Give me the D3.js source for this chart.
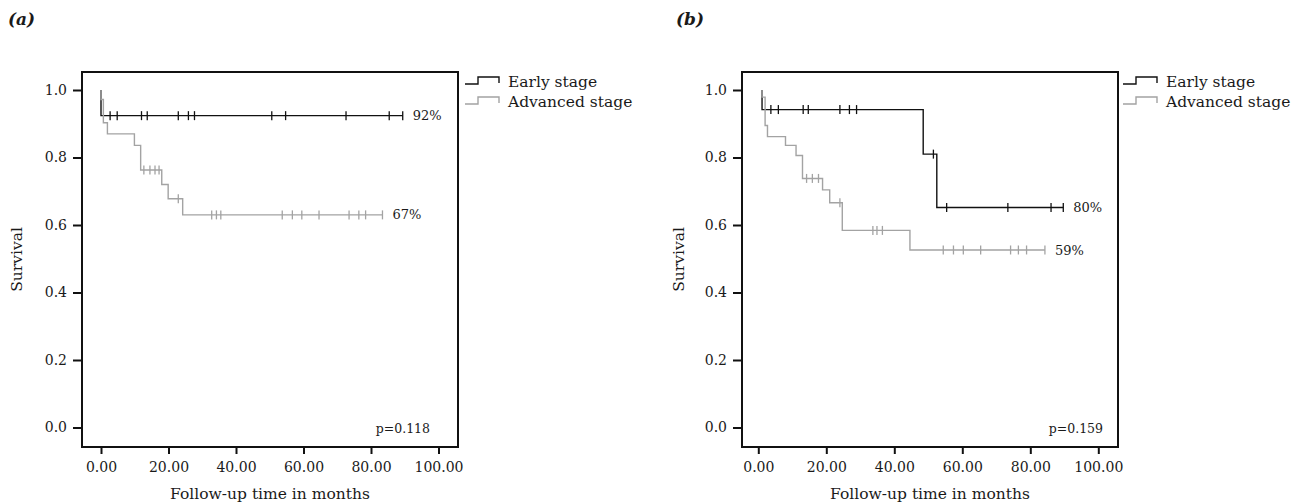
<!DOCTYPE html>
<html>
<head>
<meta charset="utf-8">
<script src="https://cdn.jsdelivr.net/npm/d3@7/dist/d3.min.js"></script>
<style>
  body { margin: 0; background: #fff; }
  svg text { font-family: "DejaVu Serif", "Liberation Serif", serif; fill: #1a1a1a; }
</style>
</head>
<body>
<div id="chart"></div>
<script>
// values
var panelNames = ["(a)", "(b)"];
var seriesNames = ["Early stage", "Advanced stage"];
var xTicks = [0, 20, 40, 60, 80, 100];
var yTicks = [0, 0.2, 0.4, 0.6, 0.8, 1.0];
var pValues = ["p=0.118", "p=0.159"];

// step points [time, survival] and censor times
var earlyA = [[0, 1], [0, 0.924]];
var earlyACens = [2.7, 4.8, 12.0, 13.7, 22.9, 25.9, 27.7, 50.6, 54.7, 72.6, 85.4, 89.4];
var advA = [[0, 1], [0, 0.972], [0.7, 0.903], [1.9, 0.870], [9.9, 0.836], [11.75, 0.763], [18.0, 0.720], [19.9, 0.678], [24.2, 0.630]];
var advACens = [12.7, 14.5, 16.0, 17.2, 22.9, 32.8, 34.2, 35.5, 53.7, 56.7, 59.5, 64.6, 73.5, 76.4, 78.4, 83.4];
var pctA = ["92%", "67%"];

var earlyB = [[1.1, 1], [1.1, 0.942], [48.5, 0.810], [52.5, 0.652]];
var earlyBCens = [3.7, 5.9, 13.2, 14.7, 24.0, 26.8, 28.9, 51.5, 55.4, 73.4, 86.1, 89.7];
var advB = [[1.1, 1], [1.1, 0.979], [2.0, 0.895], [2.7, 0.862], [8.0, 0.836], [11.1, 0.806], [13.0, 0.738], [18.9, 0.704], [21.0, 0.666], [24.7, 0.584], [44.6, 0.526]];
var advBCens = [14.2, 15.9, 17.7, 24.0, 33.7, 34.9, 36.5, 54.4, 57.4, 60.3, 65.4, 74.2, 76.5, 78.9, 84.3];
var pctB = ["80%", "59%"];

var colors = ["#111", "#a3a3a3"];

var svg = d3.select("#chart").append("svg")
  .attr("width", 1305)
  .attr("height", 504);

var panels = [
  { name: panelNames[0], left: 82, right: 458, x0: 101, x100: 438.5, titleX: 8,
    series: [{ pts: earlyA, cens: earlyACens, pct: pctA[0] }, { pts: advA, cens: advACens, pct: pctA[1] }],
    p: pValues[0], pX: 430, legendX: 465, yLabelX: 22 },
  { name: panelNames[1], left: 742, right: 1118, x0: 758.3, x100: 1098.3, titleX: 676,
    series: [{ pts: earlyB, cens: earlyBCens, pct: pctB[0] }, { pts: advB, cens: advBCens, pct: pctB[1] }],
    p: pValues[1], pX: 1103, legendX: 1123, yLabelX: 684 }
];

var plotTop = 72, plotBottom = 447;
var y = d3.scaleLinear().domain([0, 1]).range([427.5, 90]);

function survAt(pts, t) {
  var s = pts[0][1];
  pts.forEach(function(p) { if (p[0] <= t) s = p[1]; });
  return s;
}

panels.forEach(function(pn) {
  var x = d3.scaleLinear().domain([0, 100]).range([pn.x0, pn.x100]);
  var g = svg.append("g");

  g.append("text")
    .attr("x", pn.titleX)
    .attr("y", 25)
    .style("font-size", "17px")
    .style("font-weight", "bold")
    .style("font-style", "italic")
    .text(pn.name);

  // curves
  pn.series.forEach(function(s, i) {
    var tEnd = d3.max(s.cens);
    var pts = s.pts.concat([[tEnd, s.pts[s.pts.length - 1][1]]]);
    var line = d3.line()
      .x(function(d) { return x(d[0]); })
      .y(function(d) { return y(d[1]); })
      .curve(d3.curveStepAfter);
    g.append("path")
      .datum(pts)
      .attr("fill", "none")
      .attr("stroke", colors[i])
      .attr("stroke-width", 1.4)
      .attr("d", line);
    g.selectAll(".cens" + i)
      .data(s.cens)
      .enter()
      .append("line")
      .attr("x1", function(d) { return x(d); })
      .attr("x2", function(d) { return x(d); })
      .attr("y1", function(d) { return y(survAt(s.pts, d)) - 4.5; })
      .attr("y2", function(d) { return y(survAt(s.pts, d)) + 4.5; })
      .attr("stroke", colors[i])
      .attr("stroke-width", 1.3);
    g.append("text")
      .attr("x", x(tEnd) + 10)
      .attr("y", y(s.pts[s.pts.length - 1][1]))
      .attr("dy", "0.35em")
      .style("font-size", "13px")
      .text(s.pct);
  });

  // frame
  g.append("rect")
    .attr("x", pn.left)
    .attr("y", plotTop)
    .attr("width", pn.right - pn.left)
    .attr("height", plotBottom - plotTop)
    .attr("fill", "none")
    .attr("stroke", "#111")
    .attr("stroke-width", 2);

  g.append("g")
    .attr("transform", "translate(" + pn.left + ",0)")
    .call(d3.axisLeft(y).tickValues(yTicks).tickFormat(d3.format(".1f")).tickSize(9).tickPadding(6));
  g.append("g")
    .attr("transform", "translate(0," + plotBottom + ")")
    .call(d3.axisBottom(x).tickValues(xTicks).tickFormat(d3.format(".2f")).tickSize(7).tickPadding(8));
  g.selectAll(".domain").remove();
  g.selectAll(".tick line").attr("stroke", "#111").attr("stroke-width", 2);
  g.selectAll(".tick text")
    .style("font-size", "14px")
    .style("font-family", "DejaVu Serif")
    .attr("fill", "#1a1a1a");

  g.append("text")
    .attr("x", (pn.left + pn.right) / 2)
    .attr("y", 499)
    .attr("text-anchor", "middle")
    .style("font-size", "15.5px")
    .text("Follow-up time in months");
  g.append("text")
    .attr("transform", "translate(" + pn.yLabelX + "," + (plotTop + plotBottom) / 2 + ") rotate(-90)")
    .attr("text-anchor", "middle")
    .style("font-size", "15.5px")
    .text("Survival");

  g.append("text")
    .attr("x", pn.pX)
    .attr("y", 433)
    .attr("text-anchor", "end")
    .style("font-size", "12.5px")
    .text(pn.p);

  // legend
  seriesNames.forEach(function(name, i) {
    var ly = 84 + i * 20;
    var lx = pn.legendX;
    g.append("path")
      .attr("d", "M" + lx + "," + ly + "H" + (lx + 13) + "V" + (ly - 7) + "H" + (lx + 34) + "V" + (ly - 1))
      .attr("fill", "none")
      .attr("stroke", colors[i])
      .attr("stroke-width", 1.4);
    g.append("text")
      .attr("x", lx + 43)
      .attr("y", ly + 2.5)
      .style("font-size", "15.5px")
      .text(name);
  });
});
</script>
</body>
</html>
